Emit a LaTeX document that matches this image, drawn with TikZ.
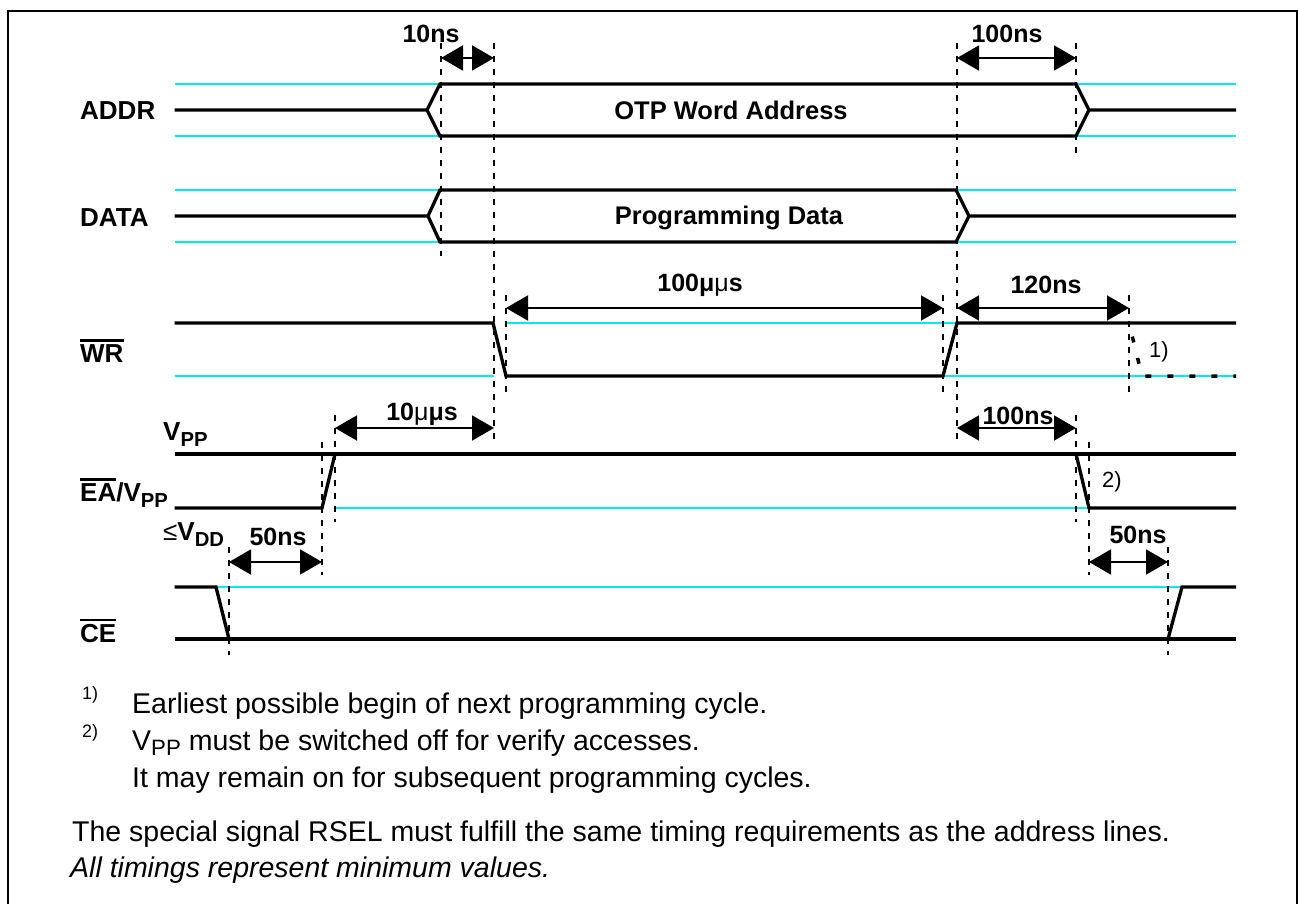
\documentclass[tikz,border=0pt]{standalone}
\usepackage{graphicx}
\usepackage{fontspec}
\setmainfont{Liberation Sans}
\usetikzlibrary{arrows.meta}

\definecolor{refcyan}{RGB}{0,235,235}

% overlined (active-low) signal name
\newsavebox\sigbox
\newcommand\negsig[1]{\sbox\sigbox{#1}\rlap{\rule[\dimexpr\ht\sigbox+2.5pt\relax]{\wd\sigbox}{2.2pt}}\usebox\sigbox}
% lowered subscript
\newcommand\dropsub[2][6pt]{\raisebox{-#1}{\scalebox{0.78}{#2}}}

\tikzset{
  sig/.style={line width=3.3pt, line join=miter, line cap=butt},
  ref/.style={line width=1.6pt, draw=refcyan},
  guide/.style={line width=2.3pt, dash pattern=on 6pt off 7pt},
  dim/.style={line width=2pt, {Triangle[length=22pt,width=25pt]}-{Triangle[length=22pt,width=25pt]}},
  tlabel/.style={font=\fontsize{25}{25}\selectfont\bfseries, inner sep=0pt},
  slabel/.style={font=\fontsize{26}{26}\selectfont\bfseries, anchor=base west, inner sep=0pt},
  boxtext/.style={font=\fontsize{25.5}{25.5}\selectfont\bfseries, inner sep=0pt},
  note/.style={font=\fontsize{28.5}{28.5}\selectfont, anchor=base west, inner sep=0pt},
  fnmark/.style={font=\fontsize{18}{18}\selectfont, anchor=base west, inner sep=0pt},
  remark/.style={font=\fontsize{22}{22}\selectfont, inner sep=0pt},
  pending/.style={line width=3.5pt, line cap=butt, dash pattern=on 6pt off 16pt, dash phase=8pt},
}

\begin{document}
\begin{tikzpicture}[x=1pt,y=-1pt]
\useasboundingbox (0,0) rectangle (1298,904);

% frame
\draw[line width=2.4pt] (8,906) -- (8,11) -- (1297,11) -- (1297,906);

% ---------- reference levels ----------
\draw[ref] (174.5,84) -- (440,84) (174.5,136) -- (440,136)
           (1076,84) -- (1236,84) (1076,136) -- (1236,136);
\draw[ref] (174.5,190) -- (440,190) (174.5,242) -- (440,242)
           (956,190) -- (1236,190) (956,242) -- (1236,242);
\draw[ref] (174.5,376) -- (494,376) (506,323) -- (957,323) (943,376) -- (1236,376);
\draw[ref] (335,508) -- (1089,508);
\draw[ref] (216,587) -- (1182,587);

% ---------- ADDR ----------
\draw[sig] (174.5,110) -- (427,110) -- (440,84) -- (1076,84) -- (1089,110) -- (1236,110);
\draw[sig] (427,110) -- (440,136) -- (1076,136) -- (1089,110);
% ---------- DATA ----------
\draw[sig] (174.5,216) -- (428,216) -- (440,190) -- (956,190) -- (969,216) -- (1236,216);
\draw[sig] (428,216) -- (440,242) -- (956,242) -- (969,216);
% ---------- WR ----------
\draw[sig] (174.5,323) -- (493,323) -- (506,376) -- (943,376) -- (957,323) -- (1236,323);
\draw[pending] (1129,323) -- (1142,376) -- (1236,376);
% ---------- EA/VPP ----------
\draw[sig] (174.5,454) -- (1236,454);
\draw[sig] (174.5,508) -- (322,508) -- (335,454);
\draw[sig] (1076,454) -- (1089,508) -- (1236,508);
% ---------- CE ----------
\draw[sig] (174.5,587) -- (216,587) -- (229,639);
\draw[sig] (174.5,639) -- (1236,639);
\draw[sig] (1168,639) -- (1182,587) -- (1236,587);

% ---------- timing guides ----------
\draw[guide] (441,43) -- (441,256);
\draw[guide] (494,43) -- (494,440);
\draw[guide] (957,43) -- (957,440);
\draw[guide] (1076,43) -- (1076,158);
\draw[guide] (506,295) -- (506,395);
\draw[guide] (943,295) -- (943,395);
\draw[guide] (1129,295) -- (1129,395);
\draw[guide] (335,415) -- (335,522);
\draw[guide] (1076,415) -- (1076,522);
\draw[guide] (322,442) -- (322,575);
\draw[guide] (1089,442) -- (1089,575);
\draw[guide] (229,547) -- (229,655);
\draw[guide] (1168,547) -- (1168,655);

% ---------- dimension arrows ----------
\coordinate (t1a) at (441,58);  \coordinate (t1b) at (494,58);
\coordinate (t2a) at (957,58);  \coordinate (t2b) at (1076,58);
\coordinate (t3a) at (506,308); \coordinate (t3b) at (943,308);
\coordinate (t4a) at (957,308); \coordinate (t4b) at (1129,308);
\coordinate (t5a) at (335,428); \coordinate (t5b) at (494,428);
\coordinate (t6a) at (957,428); \coordinate (t6b) at (1076,428);
\coordinate (t7a) at (229,562); \coordinate (t7b) at (322,562);
\coordinate (t8a) at (1089,562);\coordinate (t8b) at (1168,562);
\draw[dim] (t1a) -- (t1b);
\draw[dim] (t2a) -- (t2b);
\draw[dim] (t3a) -- (t3b);
\draw[dim] (t4a) -- (t4b);
\draw[dim] (t5a) -- (t5b);
\draw[dim] (t6a) -- (t6b);
\draw[dim] (t7a) -- (t7b);
\draw[dim] (t8a) -- (t8b);

\node[tlabel] (l1) at (431,34) {10ns};
\node[tlabel] (l2) at (1007,34) {100ns};
\node[tlabel] (l3) at (700,285) {100μ{\mdseries μ}s};
\node[tlabel] (l4) at (1046,285) {120ns};
\node[tlabel] (l5) at (422,414) {10{\mdseries μ}μs};
\node[tlabel] (l6) at (1018,416) {100ns};
\node[tlabel] (l7) at (278,537) {50ns};
\node[tlabel] (l8) at (1138,535) {50ns};

% ---------- bus contents ----------
\node[boxtext] (b1) at (731,110) {OTP Word Address};
\node[boxtext] (b2) at (729,218) {Programming Data};

% ---------- signal names ----------
\node[slabel] (s1) at (80,119.5) {ADDR};
\node[slabel] (s2) at (80,226.5) {DATA};
\node[slabel] (s3) at (80,362) {\negsig{WR}};
\node[slabel] (s4) at (80,501) {\negsig{EA}/V\dropsub{PP}};
\node[slabel] (s5) at (80,642) {\negsig{CE}};
\node[slabel] (v1) at (163,440) {V\dropsub{PP}};
\node[slabel] (v2) at (163,540) {{\mdseries ≤}V\dropsub{DD}};

% ---------- remarks on the waveforms ----------
\node[remark] (r1) at (1159,352) {1)};
\node[remark] (r2) at (1112,482) {2)};

% ---------- notes ----------
\node[fnmark] (f1) at (82,699) {1)};
\node[note] (n1) at (132,713) {Earliest possible begin of next programming cycle.};
\node[fnmark] (f2) at (82,737) {2)};
\node[note] (n2) at (132,750) {V\dropsub[5pt]{PP} must be switched off for verify accesses.};
\node[note] (n3) at (132,787) {It may remain on for subsequent programming cycles.};
\node[note] (n4) at (72,841) {The special signal RSEL must fulfill the same timing requirements as the address lines.};
\node[note] (n5) at (70,877) {\itshape All timings represent minimum values.};
\end{tikzpicture}
\end{document}
